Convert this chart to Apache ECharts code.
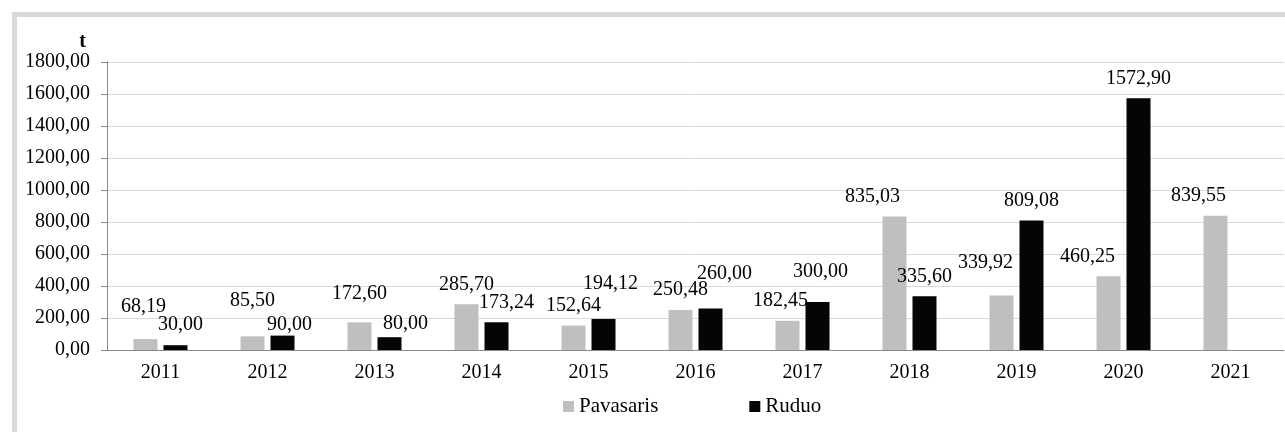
<!DOCTYPE html>
<html>
<head>
<meta charset="utf-8">
<script src="https://cdn.jsdelivr.net/npm/echarts@6/dist/echarts.min.js"></script>
<style>
html,body{margin:0;padding:0;background:#fff;}
#chart{width:1285px;height:432px;}
</style>
</head>
<body>
<div id="chart"></div>
<script>
// ---- data ----
const categories = ['2011','2012','2013','2014','2015','2016','2017','2018','2019','2020','2021'];
const pavasaris = [68.19, 85.50, 172.60, 285.70, 152.64, 250.48, 182.45, 835.03, 339.92, 460.25, 839.55];
const ruduo = [30.00, 90.00, 80.00, 173.24, 194.12, 260.00, 300.00, 335.60, 809.08, 1572.90, null];
const seriesNames = ['Pavasaris', 'Ruduo'];
const yTickMax = 1800;
const yTickStep = 200;

// label nudges (label styling only, [dx, dy] in px)
const pavLabelNudge = [[-2,-12],[0,-16],[0,-9],[0,0],[0,0],[0,0],[-7,0],[-22,0],[-16,-13],[-21,0],[-17,0]];
const rudLabelNudge = [[5,0],[7,9],[16,7],[10,0],[7,-15],[14,-15],[3,-10],[0,0],[0,0],[0,0],[0,0]];

const fmt = v => Number(v).toFixed(2).replace('.', ',');
const FONT = '"Liberation Serif", "Times New Roman", serif';

function buildData(values, nudges) {
  return values.map((v, i) => ({
    value: v,
    label: { offset: nudges[i] }
  }));
}

const chart = echarts.init(document.getElementById('chart'), null, {renderer: 'canvas'});
chart.setOption({
  animation: false,
  backgroundColor: '#ffffff',
  graphic: [{
    type: 'rect',
    left: 12, top: 12,
    shape: { width: 1300, height: 450 },
    style: { fill: 'none', stroke: '#d9d9d9', lineWidth: 5 },
    silent: true,
    z: -1
  }],
  grid: { left: 107, top: 62, right: 1, bottom: 82, containLabel: false },
  legend: {
    data: seriesNames,
    left: 558, top: 391,
    icon: 'rect',
    itemWidth: 11, itemHeight: 11,
    itemGap: 91,
    textStyle: { fontFamily: FONT, fontSize: 21, color: '#000' }
  },
  xAxis: {
    type: 'category',
    data: categories,
    axisLine: { lineStyle: { color: '#898989', width: 1 } },
    axisTick: { show: false },
    axisLabel: { fontFamily: FONT, fontSize: 20, color: '#000', margin: 13 }
  },
  yAxis: {
    type: 'value',
    min: 0, max: yTickMax, interval: yTickStep,
    name: 't',
    nameLocation: 'end',
    nameGap: 10,
    nameTextStyle: { fontFamily: FONT, fontSize: 20, fontWeight: 'bold', color: '#000', align: 'right', verticalAlign: 'bottom', padding: [0, 21, 0, 0] },
    axisLine: { show: true, lineStyle: { color: '#898989', width: 1 } },
    axisTick: { show: true, length: 6, lineStyle: { color: '#898989' } },
    splitLine: { lineStyle: { color: '#d9d9d9', width: 1 } },
    axisLabel: { fontFamily: FONT, fontSize: 20, color: '#000', margin: 17, formatter: v => fmt(v) }
  },
  series: [
    {
      name: seriesNames[0], type: 'bar',
      data: buildData(pavasaris, pavLabelNudge),
      barWidth: 24, barGap: '25%',
      itemStyle: { color: '#bfbfbf' },
      label: { show: true, position: 'top', distance: 10, fontFamily: FONT, fontSize: 20, color: '#000', formatter: p => fmt(p.value) }
    },
    {
      name: seriesNames[1], type: 'bar',
      data: buildData(ruduo, rudLabelNudge),
      barWidth: 24, barGap: '25%',
      itemStyle: { color: '#050505' },
      label: { show: true, position: 'top', distance: 10, fontFamily: FONT, fontSize: 20, color: '#000', formatter: p => p.value == null ? '' : fmt(p.value) }
    }
  ]
});
</script>
</body>
</html>
